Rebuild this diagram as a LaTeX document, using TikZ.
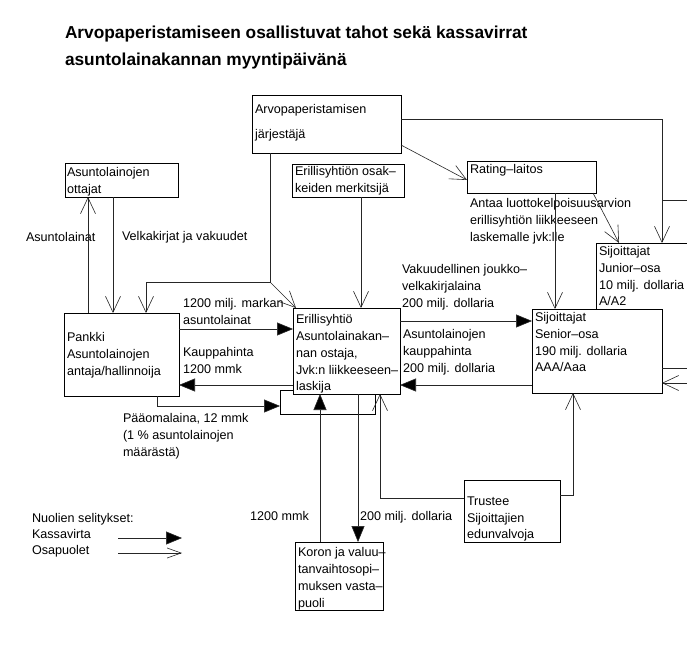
\documentclass[tikz,border=0pt]{standalone}
\usepackage{fontspec}
\setmainfont{Liberation Sans}
\usetikzlibrary{arrows.meta,fit,calc}
\begin{document}
\begin{tikzpicture}[x=1pt,y=-1pt,
  box/.style={draw=black, line width=0.9pt, inner sep=0pt, outer sep=0pt},
  txt/.style={inner sep=0pt, outer sep=0pt, anchor=north west, align=left,
    font=\fontsize{12.6}{16.6}\selectfont, text=black},
  conn/.style={draw=black!85, line width=0.6pt},
  cash/.style={conn, -{Triangle[length=16pt,width=13pt,fill=black]}},
  party/.style={conn, -{Straight Barb[length=16pt,width=15pt,line width=0.6pt]}},
  legendparty/.style={conn, -{Straight Barb[length=14pt,width=10pt,line width=0.6pt]}},
]
\useasboundingbox (0,0) rectangle (687,659);
\fill[white] (0,0) rectangle (687,659);

% title
\node[txt, font=\bfseries\fontsize{17.3}{27}\selectfont] (title) at (65,26) {Arvopaperistamiseen osallistuvat tahot sekä kassavirrat\\asuntolainakannan myyntipäivänä};

% boxes
\node[box, fit={(65,163) (178,197)}] (ottajat) {};
\node[box, fit={(252,95) (401,153)}] (arvo) {};
\node[box, fit={(292,164) (404,197)}] (osak) {};
\node[box, fit={(467,161) (596,193)}] (rating) {};
\node[inner sep=0pt, outer sep=0pt, fit={(596,243) (700,309)}] (junior) {};
\draw[line width=0.9pt] (junior.north east) -- (junior.north west) -- (junior.south west);
\node[box, fit={(532,309) (662,393)}] (senior) {};
\node[box, fit={(64,313) (179,396)}] (pankki) {};
\node[box, fit={(280,390) (375,414)}] (back) {};
\node[box, fill=white, fit={(293,308) (400,394)}] (erill) {};
\node[box, fit={(464,480) (560,542)}] (trustee) {};
\node[box, fit={(295,542) (383,610)}] (koron) {};

% box texts
\node[txt] (tottajat) at (67,167.8) {Asuntolainojen\\ottajat};
\node[txt, font=\fontsize{12.6}{25}\selectfont] (tarvo) at (255,104.5) {Arvopaperistamisen\\järjestäjä};
\node[txt] (tosak) at (295,166.8) {Erillisyhtiön osak–\\keiden merkitsijä};
\node[txt] (trating) at (470,164.8) {Rating–laitos};
\node[txt] (tjunior) at (599,246.8) {Sijoittajat\\Junior–osa\\10 milj. dollaria\\A/A2};
\node[txt] (tsenior) at (535,312.8) {Sijoittajat\\Senior–osa\\190 milj. dollaria\\AAA/Aaa};
\node[txt] (tpankki) at (67,332.8) {Pankki\\Asuntolainojen\\antaja/hallinnoija};
\node[txt, font=\fontsize{12.6}{16.7}\selectfont] (terill) at (296,314.8) {Erillisyhtiö\\Asuntolainakan–\\nan ostaja,\\Jvk:n liikkeeseen–\\laskija};
\node[txt] (ttrustee) at (467,496.8) {Trustee\\Sijoittajien\\edunvalvoja};
\node[txt, font=\fontsize{12.6}{16.7}\selectfont] (tkoron) at (298,547.8) {Koron ja valuu–\\tanvaihtosopi–\\muksen vasta–\\puoli};

% connector labels
\node[txt] (lantaa) at (470,198.8) {Antaa luottokelpoisuusarvion\\erillisyhtiön liikkeeseen\\laskemalle jvk:lle};
\node[txt] (lasunto) at (26,232.8) {Asuntolainat};
\node[txt] (lvelka) at (122,231.8) {Velkakirjat ja vakuudet};
\node[txt] (lvakuud) at (402,264.8) {Vakuudellinen joukko–\\velkakirjalaina\\200 milj. dollaria};
\node[txt] (lmarkan) at (183,298.8) {1200 milj. markan\\asuntolainat};
\node[txt] (lkauppa) at (183,347.8) {Kauppahinta\\1200 mmk};
\node[txt] (lkauppa2) at (403,329.8) {Asuntolainojen\\kauppahinta\\200 milj. dollaria};
\node[txt, font=\fontsize{12.6}{17}\selectfont] (lpaaoma) at (123,413.8) {Pääomalaina, 12 mmk\\(1 \% asuntolainojen\\määrästä)};
\node[txt] (lmmk) at (250,511.8) {1200 mmk};
\node[txt] (ldoll) at (360,511.8) {200 milj. dollaria};
\node[txt, font=\fontsize{12.6}{16}\selectfont] (llegend) at (32,513.8) {Nuolien selitykset:\\Kassavirta\\Osapuolet};

% connectors: parties
\draw[party] ($(pankki.north west)+(24,0)$) -- ($(ottajat.south west)+(23,0)$);
\draw[party] ($(ottajat.south west)+(48,0)$) -- ($(pankki.north west)+(49,0)$);
\coordinate (j1) at ($(arvo.south west)+(18,129)$);
\draw[party] ($(arvo.south west)+(18,0)$) -- (j1) -| ($(pankki.north west)+(82,0)$);
\draw[party] (j1) -- ($(erill.north west)+(3,0)$);
\draw[party] ($(osak.south west)+(69,0)$) -- ($(erill.north west)+(68,0)$);
\draw[party] ($(arvo.north east)+(0,50)$) -- ($(rating.north west)+(0,19)$);
\draw[party] ($(arvo.north east)+(0,24)$) -| ($(junior.north west)+(66,0)$);
\coordinate (r1) at ($(junior.north west)+(66,-43)$);
\coordinate (r1e) at (687,200);
\draw[conn] (r1) -- (r1e);
\draw[party] ($(rating.south west)+(88,0)$) -- ($(senior.north west)+(23,0)$);
\draw[party] ($(rating.south east)+(-3,0)$) -- ($(junior.north west)+(23,0)$);
\draw[party] ($(trustee.north west)+(0,18)$) -| ($(erill.south west)+(87,0)$);
\draw[party] ($(trustee.north east)+(0,15)$) -| ($(senior.south west)+(41,0)$);
\coordinate (s1e) at (687,368);
\coordinate (s2e) at (687,383);
\draw[conn] ($(senior.north east)+(0,59)$) -- (s1e);
\draw[party] (s2e) -- ($(senior.north east)+(0,74)$);

% connectors: cash flows
\draw[cash] ($(pankki.north east)+(0,16)$) -- ($(erill.north west)+(0,21)$);
\draw[cash] ($(erill.north west)+(0,77)$) -- ($(pankki.north east)+(0,72)$);
\draw[cash] ($(erill.north east)+(0,13)$) -- ($(senior.north west)+(0,12)$);
\draw[cash] ($(senior.north west)+(0,76)$) -- ($(erill.north east)+(0,77)$);
\draw[cash] ($(pankki.south west)+(93,0)$) |- ($(back.north west)+(0,16)$);
\draw[cash] ($(koron.north west)+(25,0)$) -- ($(erill.south west)+(27,0)$);
\draw[cash] ($(erill.south west)+(65,0)$) -- ($(koron.north west)+(63,0)$);

% legend arrows
\coordinate (k1) at (118,538);
\coordinate (k2) at (182,538);
\coordinate (o1) at (118,553);
\coordinate (o2) at (182,553);
\draw[cash] (k1) -- (k2);
\draw[legendparty] (o1) -- (o2);
\end{tikzpicture}
\end{document}
